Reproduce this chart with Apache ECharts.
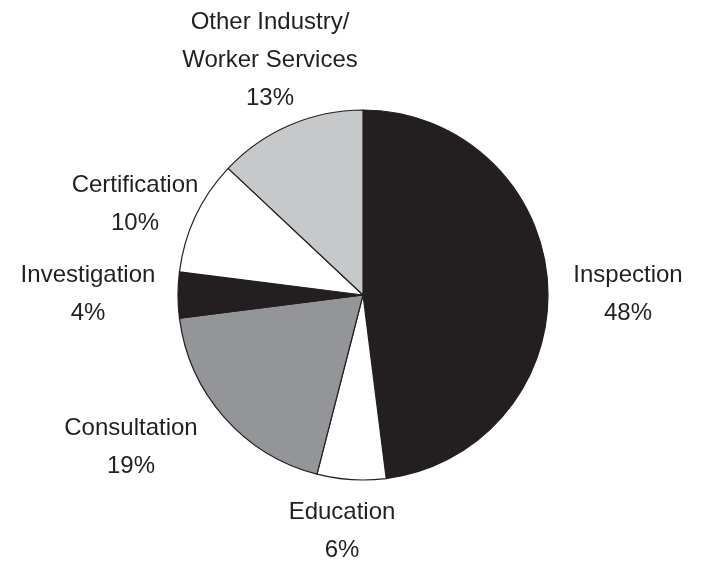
<!DOCTYPE html>
<html>
<head>
<meta charset="utf-8">
<script src="https://cdn.jsdelivr.net/npm/echarts@6/dist/echarts.min.js"></script>
<style>
  html, body { margin: 0; padding: 0; background: #fff; }
  #chart { width: 709px; height: 563px; }
</style>
</head>
<body>
<div id="chart"></div>
<script>
// slices, clockwise from 12 o'clock
var names = ['Inspection', 'Education', 'Consultation', 'Investigation', 'Certification', 'Other Industry/\nWorker Services'];
var values = [48, 6, 19, 4, 10, 13];
var colors = ['#231f20', '#ffffff', '#939598', '#231f20', '#ffffff', '#c7c8ca'];

// label centres, picked by eye
var labelSpots = [[628, 294], [342, 531], [131, 447], [88, 294], [135, 204], [270, 60]];

var myChart = echarts.init(document.getElementById('chart'));
var option;

option = {
  animation: false,
  series: [
    {
      type: 'pie',
      center: [363, 295],
      radius: [0, 185],
      startAngle: 90,
      clockwise: true,
      silent: true,
      data: names.map(function (n, i) {
        return { name: n, value: values[i], itemStyle: { color: colors[i] } };
      }),
      itemStyle: {
        borderColor: '#231f20',
        borderWidth: 1.2
      },
      label: {
        show: true,
        position: 'outside',
        formatter: '{b}\n{c}%',
        fontFamily: 'Liberation Sans',
        fontSize: 24,
        lineHeight: 38,
        color: '#231f20',
        align: 'center',
        overflow: 'none'
      },
      labelLine: { show: false },
      labelLayout: function (params) {
        var p = labelSpots[params.dataIndex];
        return {
          x: p[0],
          y: p[1],
          align: 'center',
          verticalAlign: 'middle'
        };
      }
    }
  ]
};

option && myChart.setOption(option);
</script>
</body>
</html>
